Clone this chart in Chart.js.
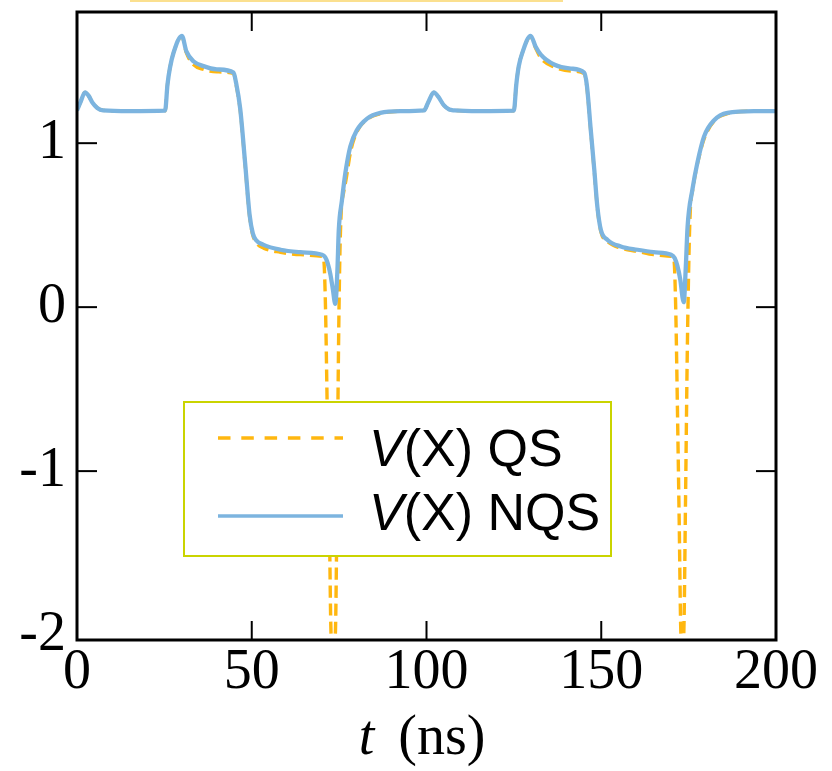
<!DOCTYPE html>
<html>
<head>
<meta charset="utf-8">
<script src="https://cdn.jsdelivr.net/npm/chart.js@4/dist/chart.umd.min.js"></script>
<style>
  html, body { margin: 0; padding: 0; background: #fff; }
  #wrap { position: relative; width: 832px; height: 771px; }
  #topband { position: absolute; left: 130px; top: 0; width: 433px; height: 2px; background: #fbe08f; }
</style>
</head>
<body>
<div id="wrap">
  <canvas id="c" width="832" height="771"></canvas>
  <div id="topband"></div>
</div>
<script>
// Axis ticks
const xTicks = [0, 50, 100, 150, 200];
const yTicks = [-2, -1, 0, 1];

// Node voltage, non-quasi-static model (time in ns, volts)
const tNQS = [0, 1.0, 2.3, 3.3, 4.5, 5.8, 7.5, 15, 25.2, 25.9, 26.6, 27.6, 30.0, 31.3, 33.3, 36.2, 40.0, 44.8, 45.5, 46.7,
  48.1, 49.4, 50.3, 51.2, 53.4, 58.2, 63.9, 70.1, 71.0, 71.7, 72.5, 73.2, 73.9, 74.5, 74.9, 75.8, 76.8, 78.2, 80.1, 83.0,
  86.8, 92.6, 99.3, 100.5, 102.1, 103.3, 105.0, 106.5, 108.0, 115, 125.0, 125.7, 126.4, 127.4, 129.8, 131.2, 132.7, 136.5,
  141.3, 145.1, 145.9, 147.0, 148.0, 148.9, 149.9, 151.8, 155.6, 160.4, 165.0, 170.0, 171.0, 171.8, 172.6, 173.6, 174.2,
  174.7, 176.1, 177.5, 179.4, 182.3, 186.1, 193.7, 200];
const vNQS = [1.20, 1.25, 1.31, 1.29, 1.245, 1.215, 1.20, 1.195, 1.198, 1.36, 1.46, 1.55, 1.655, 1.56, 1.50, 1.47, 1.45, 1.43, 1.37, 1.21,
  0.88, 0.56, 0.45, 0.41, 0.38, 0.35, 0.335, 0.32, 0.305, 0.27, 0.20, 0.11, 0.02, 0.22, 0.47, 0.65, 0.82, 0.98, 1.08, 1.15,
  1.185, 1.195, 1.20, 1.25, 1.31, 1.285, 1.23, 1.205, 1.20, 1.195, 1.198, 1.36, 1.47, 1.55, 1.655, 1.59, 1.54, 1.48,
  1.455, 1.43, 1.35, 1.08, 0.84, 0.61, 0.47, 0.41, 0.37, 0.35, 0.335, 0.32, 0.30, 0.25, 0.17, 0.03, 0.25,
  0.49, 0.72, 0.88, 1.04, 1.14, 1.185, 1.195, 1.195];

// Node voltage, quasi-static model
const tQS = [0, 1.0, 2.3, 3.3, 4.5, 5.8, 7.5, 15, 25.2, 25.9, 26.6, 27.6, 30.0, 31.3, 33.3, 36.2, 40.0, 44.8, 45.5, 46.7,
  48.1, 49.4, 50.3, 51.2, 53.4, 58.2, 63.9, 70.1, 70.6, 71.1, 71.6, 72.2, 72.7, 73.2, 73.9, 74.4, 74.8, 75.2, 75.6, 76.3,
  77.0, 78.3, 80.1, 83.0, 86.8, 92.6, 99.3, 100.5, 102.1, 103.3, 105.0, 106.5, 108.0, 115, 125.0, 125.7, 126.4, 127.4,
  129.8, 131.2, 132.7, 136.5, 141.3, 145.1, 145.9, 147.0, 148.0, 148.9, 149.9, 151.8, 155.6, 160.4, 165.0, 170.0, 170.8,
  171.3, 171.8, 172.3, 172.8, 173.2, 173.6, 174.1, 174.6, 175.1, 175.5, 176.2, 177.0, 177.8, 179.5, 182.3, 186.1, 193.7, 200];
const vQS = [1.20, 1.25, 1.31, 1.29, 1.245, 1.215, 1.20, 1.195, 1.198, 1.36, 1.46, 1.55, 1.65, 1.55, 1.48, 1.45, 1.435, 1.425, 1.36, 1.20,
  0.87, 0.55, 0.44, 0.395, 0.36, 0.335, 0.32, 0.31, 0.29, 0.0, -0.62, -1.3, -2.0, -2.06, -2.0, -1.2, -0.3, 0.3, 0.58, 0.70,
  0.78, 0.95, 1.07, 1.145, 1.18, 1.195, 1.20, 1.25, 1.31, 1.285, 1.23, 1.205, 1.20, 1.195, 1.198, 1.36, 1.47, 1.55,
  1.65, 1.58, 1.52, 1.465, 1.44, 1.425, 1.34, 1.07, 0.83, 0.60, 0.46, 0.40, 0.36, 0.34, 0.32, 0.31, 0.29,
  0.0, -0.62, -1.3, -2.0, -2.06, -2.0, -1.2, -0.3, 0.32, 0.60, 0.72, 0.82, 0.90, 1.03, 1.135, 1.18, 1.195, 1.195];

const seriesNames = ['V(X) QS', 'V(X) NQS'];
const xTitleVar = 't';
const xTitleUnit = '(ns)';

const QS_COLOR = '#ffb70f';
const NQS_COLOR = '#7cb4df';
const SERIF = '"Liberation Serif", "Times New Roman", serif';
const SANS = '"Liberation Sans", Arial, sans-serif';

const toPoints = (ts, vs) => ts.map((t, i) => ({ x: t, y: vs[i] }));

// Frame with inward ticks, the axis title and the boxed legend
const decorations = {
  id: 'decorations',
  afterDatasetsDraw(chart) {
    const { ctx, chartArea: a, scales: { x, y } } = chart;
    ctx.save();

    // legend box
    const lx = 184, ly = 402, lw = 427, lh = 154;
    ctx.fillStyle = '#ffffff';
    ctx.fillRect(lx, ly, lw, lh);
    ctx.strokeStyle = '#cad400';
    ctx.lineWidth = 2;
    ctx.strokeRect(lx, ly, lw, lh);

    const rows = [
      { y: 438, color: QS_COLOR, dash: [12.5, 10.8], text: seriesNames[0], base: 466 },
      { y: 516, color: NQS_COLOR, dash: [], text: seriesNames[1], base: 530 }
    ];
    rows.forEach(r => {
      ctx.beginPath();
      ctx.setLineDash(r.dash);
      ctx.strokeStyle = r.color;
      ctx.lineWidth = 3.3;
      ctx.moveTo(218, r.y);
      ctx.lineTo(343, r.y);
      ctx.stroke();
      ctx.setLineDash([]);
      ctx.fillStyle = '#000';
      ctx.textBaseline = 'alphabetic';
      ctx.textAlign = 'left';
      ctx.font = 'italic 52px ' + SANS;
      const head = r.text.charAt(0);
      ctx.fillText(head, 369, r.base);
      const w = ctx.measureText(head).width;
      ctx.font = '52px ' + SANS;
      ctx.fillText(r.text.slice(1), 369 + w, r.base);
    });

    // frame
    ctx.strokeStyle = '#000';
    ctx.lineWidth = 3;
    ctx.strokeRect(a.left, a.top, a.right - a.left, a.bottom - a.top);

    // inward tick marks on all four sides
    ctx.lineWidth = 2;
    const seg = (x1, y1, x2, y2) => { ctx.beginPath(); ctx.moveTo(x1, y1); ctx.lineTo(x2, y2); ctx.stroke(); };
    xTicks.forEach(v => {
      if (v <= x.min + 1 || v >= x.max - 1) return;
      const px = x.getPixelForValue(v);
      seg(px, a.top, px, a.top + 19);
      seg(px, a.bottom, px, a.bottom - 19);
    });
    yTicks.forEach(v => {
      if (v <= y.min + 0.1 || v >= y.max - 0.1) return;
      const py = y.getPixelForValue(v);
      seg(a.left, py, a.left + 20, py);
      seg(a.right, py, a.right - 20, py);
    });

    // axis title: italic variable followed by the unit
    ctx.fillStyle = '#000';
    ctx.textBaseline = 'alphabetic';
    ctx.textAlign = 'left';
    ctx.font = 'italic 56px ' + SERIF;
    const wv = ctx.measureText(xTitleVar).width;
    ctx.font = '56px ' + SERIF;
    const wu = ctx.measureText(xTitleUnit).width;
    const gap = 24;
    const cx = 422;
    const start = cx - (wv + gap + wu) / 2;
    ctx.font = 'italic 56px ' + SERIF;
    ctx.fillText(xTitleVar, start, 754);
    ctx.font = '56px ' + SERIF;
    ctx.fillText(xTitleUnit, start + wv + gap, 754);

    ctx.restore();
  }
};

new Chart(document.getElementById('c'), {
  type: 'line',
  data: {
    datasets: [
      {
        label: seriesNames[1],
        data: toPoints(tNQS, vNQS),
        borderColor: NQS_COLOR,
        borderWidth: 4.3,
        pointRadius: 0,
        cubicInterpolationMode: 'monotone',
        fill: false
      },
      {
        label: seriesNames[0],
        data: toPoints(tQS, vQS),
        borderColor: QS_COLOR,
        borderWidth: 3.4,
        borderDash: [12, 6],
        pointRadius: 0,
        cubicInterpolationMode: 'monotone',
        fill: false
      }
    ]
  },
  options: {
    responsive: false,
    animation: false,
    devicePixelRatio: 1,
    layout: { padding: { top: 12, right: 56, left: 0, bottom: 0 } },
    plugins: { legend: { display: false }, tooltip: { enabled: false }, title: { display: false } },
    scales: {
      x: {
        type: 'linear',
        min: 0,
        max: 200,
        afterBuildTicks: s => { s.ticks = xTicks.map(v => ({ value: v })); },
        afterFit: s => { s.height = 131; s.paddingLeft = 0; s.paddingRight = 0; },
        grid: { display: false, drawTicks: false },
        border: { display: false },
        ticks: { color: '#000', padding: 0, maxRotation: 0, autoSkip: false, font: { family: SERIF, size: 56 } }
      },
      y: {
        type: 'linear',
        min: -2.03,
        max: 1.8,
        afterBuildTicks: s => { s.ticks = yTicks.map(v => ({ value: v })); },
        afterFit: s => { s.width = 77; s.paddingTop = 0; s.paddingBottom = 0; },
        grid: { display: false, drawTicks: false },
        border: { display: false },
        ticks: { color: '#000', padding: 11, font: { family: SERIF, size: 56 } }
      }
    }
  },
  plugins: [decorations]
});
</script>
</body>
</html>
